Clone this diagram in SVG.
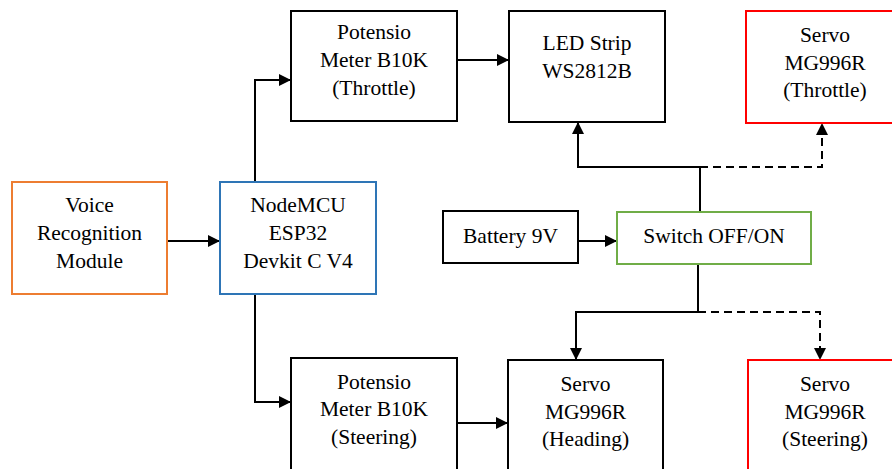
<svg xmlns="http://www.w3.org/2000/svg" width="892" height="469" viewBox="0 0 892 469">
<defs>
<marker id="ah" markerWidth="13" markerHeight="12" refX="12" refY="6" orient="auto" markerUnits="userSpaceOnUse">
<path d="M0,0 L12,6 L0,12 z" fill="#000"/>
</marker>
<style>
.box{fill:#fff;stroke:#000;stroke-width:2}
.orange{stroke:#ED7D31}
.blue{stroke:#2E75B6}
.green{stroke:#70AD47}
.red{stroke:#FF0000}
.c{fill:none;stroke:#000;stroke-width:2;marker-end:url(#ah)}
.d{stroke-dasharray:8 5}
</style>
</defs>
<rect width="892" height="469" fill="#fff"/>
<g id="connectors">
<path class="c" d="M167,241 H220"/>
<path class="c" d="M255,182 V80 H291"/>
<path class="c" d="M255,294 V402 H291"/>
<path class="c" d="M457,60 H509"/>
<path class="c" d="M457,423 H508"/>
<path class="c" d="M578,241 H617"/>
<path class="c" d="M700,212 V167 H578 V122"/>
<path class="c d" d="M700,167 H822 V123"/>
<path class="c" d="M698,264 V312 H576 V360"/>
<path class="c d" d="M698,312 H820 V360"/>
</g>
<g font-family="Liberation Serif, Times New Roman, Tinos, Noto Serif, DejaVu Serif, serif" font-size="21.5" text-anchor="middle" fill="#000">
<g id="voice">
<rect class="box orange" x="12" y="182" width="155" height="112"/>
<text x="89.5" y="212">Voice</text>
<text x="89.5" y="240">Recognition</text>
<text x="89.5" y="268">Module</text>
</g>
<g id="nodemcu">
<rect class="box blue" x="220" y="182" width="156" height="112"/>
<text x="298" y="212">NodeMCU</text>
<text x="298" y="240">ESP32</text>
<text x="298" y="268">Devkit C V4</text>
</g>
<g id="pot-throttle">
<rect class="box" x="291" y="11" width="166" height="110"/>
<text x="374" y="39">Potensio</text>
<text x="374" y="67">Meter B10K</text>
<text x="374" y="95">(Throttle)</text>
</g>
<g id="led">
<rect class="box" x="509" y="11" width="156" height="111"/>
<text x="587" y="50">LED Strip</text>
<text x="587" y="78">WS2812B</text>
</g>
<g id="servo-throttle">
<rect class="box red" x="746" y="11" width="158" height="112"/>
<text x="825" y="42">Servo</text>
<text x="825" y="70">MG996R</text>
<text x="825" y="97">(Throttle)</text>
</g>
<g id="battery">
<rect class="box" x="443" y="211" width="135" height="52"/>
<text x="510.5" y="243">Battery 9V</text>
</g>
<g id="switch">
<rect class="box green" x="617" y="212" width="194" height="52"/>
<text x="714" y="243">Switch OFF/ON</text>
</g>
<g id="pot-steering">
<rect class="box" x="291" y="358" width="166" height="118"/>
<text x="374" y="389">Potensio</text>
<text x="374" y="416">Meter B10K</text>
<text x="374" y="444">(Steering)</text>
</g>
<g id="servo-heading">
<rect class="box" x="508" y="360" width="155" height="116"/>
<text x="585.5" y="391">Servo</text>
<text x="585.5" y="419">MG996R</text>
<text x="585.5" y="446">(Heading)</text>
</g>
<g id="servo-steering">
<rect class="box red" x="748" y="360" width="156" height="116"/>
<text x="825" y="391">Servo</text>
<text x="825" y="419">MG996R</text>
<text x="825" y="446">(Steering)</text>
</g>
</g>
</svg>
